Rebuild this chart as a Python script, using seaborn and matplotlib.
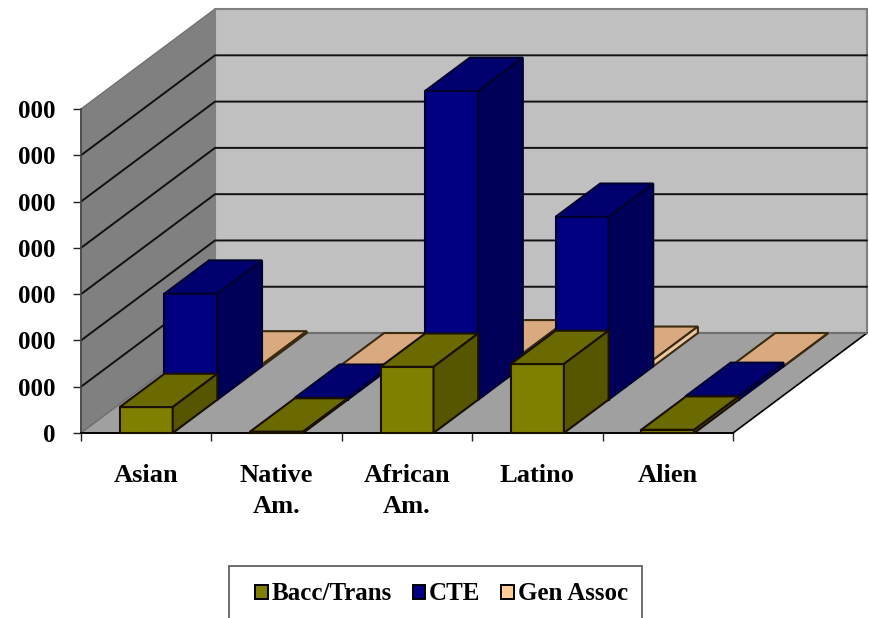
import numpy as np
import matplotlib
matplotlib.use("Agg")
import matplotlib.pyplot as plt
from matplotlib.patches import Patch, Rectangle
import seaborn as sns

categories = ["Asian", "Native\nAm.", "African\nAm.", "Latino", "Alien"]
bacc_trans = [0.56, 0.03, 1.43, 1.49, 0.07]
cte = [2.29, 0.04, 6.67, 3.95, 0.08]
gen_assoc = [0.04, 0.0, 0.28, 0.14, 0.0]
y_tick_labels = ["0", "000", "000", "000", "000", "000", "000", "000"]

sns.set_style("white")
plt.rcParams["font.family"] = ["Liberation Serif", "DejaVu Serif"]
plt.rcParams["font.weight"] = "bold"
plt.rcParams["text.color"] = "black"

W, H = 869, 618
fig = plt.figure(figsize=(W / 100, H / 100), dpi=100, facecolor="white")
# axes = front plane of the fake 3d box, everything else hangs outside it
ax = fig.add_axes([81 / W, 1 - 433 / H, 652 / W, 324 / H])
ax.patch.set_visible(False)

# depth of the box in data units
depth_x = 134 / 130.4
depth_y = 100 / 46.3
slot_x = depth_x / 3
slot_y = depth_y / 3
bar_w = 53 / 130.4
y_max = 7
n_cat = len(categories)
pos = np.arange(n_cat) + 0.5

# name, values, front, top, side, outline
series = [
    ("Bacc/Trans", bacc_trans, "#808000", "#6a6a00", "#565600", "#1a1000"),
    ("CTE", cte, "#000080", "#00006e", "#000058", "#000030"),
    ("Gen Assoc", gen_assoc, "#ffcc99", "#d9aa80", "#ecc9a4", "#3a2a10"),
]

# walls and floor
ax.fill([0, 0, depth_x, depth_x], [0, y_max, y_max + depth_y, depth_y],
        color="#808080", lw=1, ec="#707070", clip_on=False, zorder=1)
ax.fill([depth_x, depth_x, n_cat + depth_x, n_cat + depth_x],
        [depth_y, y_max + depth_y, y_max + depth_y, depth_y],
        fc="#c0c0c0", ec="#808080", lw=1.5, clip_on=False, zorder=1)
ax.fill([0, depth_x, n_cat + depth_x, n_cat],
        [0, depth_y, depth_y, 0],
        fc="#a0a0a0", ec="none", clip_on=False, zorder=1)
ax.plot([n_cat, n_cat + depth_x], [0, depth_y], color="black", lw=1.2,
        clip_on=False, zorder=1.5)
ax.plot([0, depth_x], [0, depth_y], color="#707070", lw=1,
        clip_on=False, zorder=1.5)
ax.plot([depth_x, n_cat + depth_x], [depth_y, depth_y], color="#707070", lw=1.5,
        clip_on=False, zorder=1.5)

for i in range(1, y_max):
    ax.plot([0, depth_x, n_cat + depth_x], [i, i + depth_y, i + depth_y],
            color="#111111", lw=1.4, clip_on=False, zorder=2)

# back row first so the nearer bars paint over it
for s in [2, 1, 0]:
    name, vals, c_front, c_top, c_side, edge = series[s]
    z = 10 + (2 - s) * 3
    left = pos + s * slot_x - bar_w / 2
    base = s * slot_y
    sns.barplot(x=pos + s * slot_x, y=vals, orient="x", native_scale=True,
                width=bar_w, bottom=base, color=c_front, saturation=1,
                edgecolor=edge, linewidth=1.5, errorbar=None, legend=False,
                clip_on=False, zorder=z, ax=ax)
    for x0, v in zip(left, vals):
        x1 = x0 + bar_w
        top = base + v
        ax.fill([x0, x0 + slot_x, x1 + slot_x, x1],
                [top, top + slot_y, top + slot_y, top],
                fc=c_top, ec=edge, lw=1.5, clip_on=False, zorder=z + 1)
        ax.fill([x1, x1 + slot_x, x1 + slot_x, x1],
                [base, base + slot_y, top + slot_y, top],
                fc=c_side, ec=edge, lw=1.5, clip_on=False, zorder=z + 1)

ax.set_xlim(0, n_cat)
ax.set_ylim(0, y_max)
ax.set_xlabel("")
ax.set_ylabel("")

ax.set_yticks(range(y_max + 1))
ax.set_yticklabels(y_tick_labels, fontsize=18, fontweight="bold", color="black")
ax.set_xticks(range(n_cat + 1))
ax.set_xticklabels([])
ax.set_xticks(pos, minor=True)
ax.set_xticklabels(categories, minor=True, fontsize=19, fontweight="bold",
                   color="black", linespacing=1.45)
ax.tick_params(axis="y", which="major", length=6, width=1, color="#222222",
               left=True, pad=12.5)
ax.tick_params(axis="x", which="major", length=6, width=1, color="#222222",
               bottom=True)
ax.tick_params(axis="x", which="minor", length=0, pad=22.5)

sns.despine(ax=ax, top=True, right=True)
ax.spines["left"].set_color("#444444")
ax.spines["bottom"].set_color("black")
ax.spines["left"].set_linewidth(1.2)
ax.spines["bottom"].set_linewidth(1.4)

# legend frame runs off the bottom of the picture and is not centred on the entries
fig.add_artist(Rectangle((229 / W, -12 / H), 413 / W, (618 - 566 + 12) / H,
                         transform=fig.transFigure, fc="white", ec="#555555",
                         lw=1.2))
handles = [Patch(fc=s[2], ec="black", lw=1.4, label=s[0]) for s in series]
leg = fig.legend(handles=handles, ncol=3, loc="center",
                 bbox_to_anchor=(441.5 / W, 1 - 594 / H),
                 bbox_transform=fig.transFigure, fontsize=18, frameon=False,
                 handlelength=0.5, handleheight=0.5, handletextpad=0.16,
                 columnspacing=0.82, borderpad=0, borderaxespad=0)
leg.set_zorder(5)

fig.savefig("out.png", dpi=100)
